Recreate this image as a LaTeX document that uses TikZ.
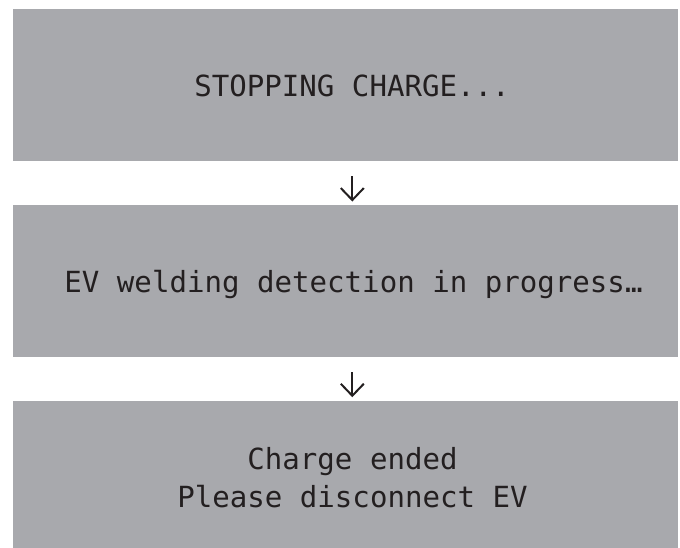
\documentclass[tikz,border=0pt]{standalone}
\usepackage{fontspec}
\setmonofont{DejaVu Sans Mono}
\usetikzlibrary{arrows.meta}
\definecolor{boxgray}{RGB}{168,169,173}
\definecolor{inkgray}{RGB}{35,31,32}
\begin{document}
\begin{tikzpicture}[x=1pt,y=-1pt,
  screen/.style={fill=boxgray, draw=none, minimum width=665pt, inner sep=0pt},
  msg/.style={text=inkgray, inner sep=0pt, anchor=base, font=\ttfamily\fontsize{29.1}{38}\selectfont},
  flow/.style={draw=inkgray, line width=2pt, shorten <=15.3pt, shorten >=3.3pt,
    -{Straight Barb[length=12pt,width=23pt,line width=2pt]}}]
\useasboundingbox (0,0) rectangle (680,547);
\fill[white] (0,0) rectangle (680,547);
\node[screen, minimum height=151.7pt] (s1) at (345.5,84.85) {};
\node[screen, minimum height=151.7pt] (s2) at (345.5,280.85) {};
\node[screen, minimum height=150pt] (s3) at (345.5,475.7) {};
\node[msg] (t1) at (352,96.7) {STOPPING CHARGE...};
\node[msg] (t2) at (353.5,292.7) {EV welding detection in progress…};
\node[msg] (t3) at (352.5,469) {Charge ended};
\node[msg] (t4) at (352.5,507) {Please disconnect EV};
\draw[flow] (s1.south -| 352.3,0) -- (s2.north -| 352.3,0);
\draw[flow] (s2.south -| 352.3,0) -- (s3.north -| 352.3,0);
\end{tikzpicture}
\end{document}
